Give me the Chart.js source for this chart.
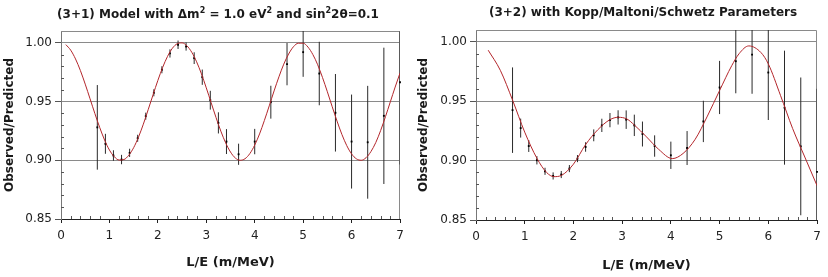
<!DOCTYPE html>
<html>
<head>
<meta charset="utf-8">
<script src="https://cdn.jsdelivr.net/npm/chart.js@4/dist/chart.umd.min.js"></script>
<style>
  body { margin: 0; background: #fff; }
  #wrap { position: relative; width: 828px; height: 277px; font-family: "DejaVu Sans", Verdana, sans-serif; }
  .panel { position: absolute; top: 0; width: 414px; height: 277px; }
  .ttl { position: absolute; width: 414px; text-align: center; font-weight: bold; font-size: 12px; line-height: 14px; color: #1a1a1a; white-space: nowrap; }
  .ttl sup { font-size: 8px; line-height: 0; vertical-align: 5px; }
</style>
</head>
<body>
<div id="wrap">
  <div class="panel" style="left:0">
    <canvas id="c1" width="414" height="277"></canvas>
    <div class="ttl" style="left:11px; top:7px">(3+1) Model with &Delta;m<sup>2</sup> = 1.0 eV<sup>2</sup> and sin<sup>2</sup>2&theta;=0.1</div>
  </div>
  <div class="panel" style="left:414px">
    <canvas id="c2" width="414" height="277"></canvas>
    <div class="ttl" style="left:22px; top:5px">(3+2) with Kopp/Maltoni/Schwetz Parameters</div>
  </div>
</div>
<script>
// ── DATA ─────────────────────────────────────────────

const xTicks = [0, 1, 2, 3, 4, 5, 6, 7];
const yTicks = [0.85, 0.90, 0.95, 1.00];

// (3+1) panel
const leftX   = [0.75, 0.917, 1.083, 1.25, 1.417, 1.583, 1.75, 1.917, 2.083, 2.25, 2.417, 2.583, 2.75, 2.917,
                 3.083, 3.25, 3.417, 3.667, 4.0, 4.333, 4.667, 5.0, 5.333, 5.667, 6.0, 6.333, 6.667, 7.0];
const leftY   = [0.928, 0.914, 0.904, 0.9006, 0.9063, 0.9187, 0.9375, 0.9574, 0.977, 0.9909, 0.9983, 0.9968, 0.9869, 0.9707,
                 0.9511, 0.9318, 0.9159, 0.9051, 0.9159, 0.9494, 0.9818, 0.992, 0.9738, 0.9404, 0.9159, 0.9153, 0.9378, 0.9664];
const leftErr = [0.036, 0.0085, 0.0045, 0.004, 0.0035, 0.003, 0.003, 0.003, 0.003, 0.0035, 0.0036, 0.0035, 0.005, 0.0065,
                 0.008, 0.009, 0.0106, 0.009, 0.0108, 0.014, 0.018, 0.021, 0.027, 0.033, 0.040, 0.048, 0.058, 0.07];
const leftCurveX = [0.1, 0.2, 0.3, 0.4, 0.5, 0.6, 0.7, 0.8, 0.9, 1.0, 1.1, 1.2, 1.3, 1.4, 1.5, 1.6, 1.7, 1.8, 1.9, 2.0,
                    2.1, 2.2, 2.3, 2.4, 2.5, 2.6, 2.7, 2.8, 2.9, 3.0, 3.1, 3.2, 3.3, 3.4, 3.5, 3.6, 3.7, 3.8, 3.9, 4.0,
                    4.1, 4.2, 4.3, 4.4, 4.5, 4.6, 4.7, 4.8, 4.9, 5.0, 5.1, 5.2, 5.3, 5.4, 5.5, 5.6, 5.7, 5.8, 5.9, 6.0,
                    6.1, 6.2, 6.3, 6.4, 6.5, 6.6, 6.7, 6.8, 6.9, 7.0];
const leftCurveY = [0.9984, 0.9937, 0.9862, 0.9764, 0.9648, 0.9523, 0.9397, 0.9278, 0.9172, 0.9087,
                    0.9030, 0.9002, 0.9006, 0.9043, 0.9107, 0.9197, 0.9307, 0.9430, 0.9556, 0.9679,
                    0.9791, 0.9884, 0.9953, 0.9992, 0.9999, 0.9974, 0.9919, 0.9838, 0.9735, 0.9616,
                    0.9490, 0.9365, 0.9248, 0.9148, 0.9070, 0.9019, 0.9000, 0.9013, 0.9057, 0.9129,
                    0.9224, 0.9339, 0.9463, 0.9590, 0.9710, 0.9818, 0.9904, 0.9966, 0.9996, 0.9996,
                    0.9963, 0.9900, 0.9813, 0.9704, 0.9583, 0.9456, 0.9333, 0.9220, 0.9125, 0.9054,
                    0.9012, 0.9000, 0.9022, 0.9074, 0.9151, 0.9253, 0.9371, 0.9497, 0.9623, 0.9742];

// (3+2) panel
const rightX   = [0.75, 0.917, 1.083, 1.25, 1.417, 1.583, 1.75, 1.917, 2.083, 2.25, 2.417, 2.583, 2.75, 2.917,
                  3.083, 3.25, 3.417, 3.667, 4.0, 4.333, 4.667, 5.0, 5.333, 5.667, 6.0, 6.333, 6.667, 7.0];
const rightY   = [0.9425, 0.9274, 0.9123, 0.9003, 0.891, 0.8871, 0.8883, 0.8933, 0.9017, 0.9115, 0.9213, 0.9297, 0.9341, 0.9364,
                  0.9345, 0.9297, 0.9224, 0.9123, 0.9045, 0.9106, 0.933, 0.9616, 0.9837, 0.9893, 0.9742, 0.9446, 0.912, 0.8905];
const rightErr = [0.036, 0.008, 0.005, 0.0035, 0.003, 0.003, 0.003, 0.003, 0.003, 0.004, 0.005, 0.0056, 0.006, 0.006,
                  0.0078, 0.009, 0.0105, 0.009, 0.0115, 0.0143, 0.0174, 0.0224, 0.027, 0.033, 0.040, 0.048, 0.058, 0.07];
const rightCurveX = [0.25, 0.5, 0.75, 1.0, 1.25, 1.45, 1.6, 1.75, 2.0, 2.25, 2.5, 2.75, 2.92, 3.1, 3.25, 3.5, 3.75,
                     4.03, 4.25, 4.5, 4.75, 5.0, 5.25, 5.4, 5.6, 5.85, 6.0, 6.25, 6.5, 6.75, 7.0];
const rightCurveY = [0.993, 0.976, 0.951, 0.924, 0.902, 0.890, 0.8865, 0.8875, 0.897, 0.9135, 0.926, 0.9345, 0.9365,
                     0.935, 0.930, 0.920, 0.9095, 0.9017, 0.906, 0.918, 0.9375, 0.959, 0.980, 0.990, 0.9966,
                     0.991, 0.9815, 0.955, 0.927, 0.903, 0.879];

// ── DIBUJO ───────────────────────────────────────────

const FONT = '"DejaVu Sans", Verdana, sans-serif';
const RED  = '#b3262b';

// bordes sup/der, ticks menores y barras de error
const extras = {
    id: 'extras',
    beforeDatasetsDraw(chart, args, o) {
        const { ctx, chartArea: a, scales: { x, y } } = chart;
        ctx.save();
        ctx.lineWidth = 1;

        ctx.strokeStyle = '#8a8a8a';
        ctx.beginPath();
        ctx.moveTo(a.left, a.top + 0.5);
        ctx.lineTo(a.right - 0.5, a.top + 0.5);
        ctx.lineTo(a.right - 0.5, a.bottom);
        ctx.stroke();

        ctx.strokeStyle = '#555';
        ctx.beginPath();
        for (let k = 86; k <= 100; k++) {
            if (k % 5 === 0) continue;
            const py = Math.round(y.getPixelForValue(k / 100)) + 0.5;
            ctx.moveTo(a.left, py); ctx.lineTo(a.left + 3, py);
        }
        for (let k = 1; k < 35; k++) {
            if (k % 5 === 0) continue;
            const px = Math.round(x.getPixelForValue(k / 5)) + 0.5;
            ctx.moveTo(px, a.bottom); ctx.lineTo(px, a.bottom - 3);
        }
        ctx.stroke();

        ctx.beginPath();
        ctx.rect(a.left, a.top, a.right - a.left, a.bottom - a.top);
        ctx.clip();
        ctx.strokeStyle = '#2a2a2a';
        ctx.beginPath();
        o.err.forEach((e, i) => {
            const px = x.getPixelForValue(o.xs[i]);
            ctx.moveTo(px, y.getPixelForValue(o.ys[i] + e));
            ctx.lineTo(px, y.getPixelForValue(o.ys[i] - e));
        });
        ctx.stroke();
        ctx.restore();
    }
};

function crearGrafico(id, xs, ys, err, cx, cy, pad, alto, titlePadBottom) {
    const puntos = xs.map((v, i) => ({ x: v, y: ys[i] }));
    const curva  = cx.map((v, i) => ({ x: v, y: cy[i] }));
    return new Chart(document.getElementById(id), {
        type: 'scatter',
        data: {
            datasets: [
                {
                    type: 'line',
                    data: curva,
                    borderColor: RED,
                    borderWidth: 1,
                    pointRadius: 0,
                    cubicInterpolationMode: 'monotone',
                    fill: false,
                },
                {
                    data: puntos,
                    pointStyle: 'rect',
                    pointRadius: 1.3,
                    backgroundColor: '#000',
                    borderColor: '#000',
                    borderWidth: 0,
                    clip: false,
                }
            ]
        },
        options: {
            responsive: false,
            animation: false,
            devicePixelRatio: 1,
            layout: { padding: pad },
            plugins: {
                legend: { display: false },
                tooltip: { enabled: false },
                extras: { xs, ys, err }
            },
            scales: {
                x: {
                    type: 'linear',
                    min: 0, max: 7,
                    afterBuildTicks: s => { s.ticks = xTicks.map(v => ({ value: v })); },
                    afterFit: s => { s.height = alto; },
                    ticks: { color: '#222', font: { family: FONT, size: 12 }, padding: 6, maxRotation: 0 },
                    grid: { drawOnChartArea: false, tickLength: 4, color: '#222' },
                    border: { color: '#222' },
                    title: {
                        display: true, text: 'L/E (m/MeV)', color: '#1a1a1a',
                        font: { family: FONT, size: 13, weight: 'bold' },
                        padding: { top: 0, bottom: titlePadBottom }
                    }
                },
                y: {
                    type: 'linear',
                    min: 0.85, max: 1.01,
                    afterBuildTicks: s => { s.ticks = yTicks.map(v => ({ value: v })); },
                    afterFit: s => { s.width = pad.yw; },
                    ticks: { color: '#222', font: { family: FONT, size: 12 }, padding: 3, callback: v => v.toFixed(2) },
                    grid: { color: '#8a8a8a', tickLength: 6, tickColor: '#555' },
                    border: { color: '#777' },
                    title: {
                        display: true, text: 'Observed/Predicted', color: '#1a1a1a',
                        font: { family: FONT, size: 12, weight: 'bold' },
                        padding: { top: 3, bottom: 0 }
                    }
                }
            }
        },
        plugins: [extras]
    });
}

crearGrafico('c1', leftX, leftY, leftErr, leftCurveX, leftCurveY,
    { top: 31, right: 14, left: 0, bottom: 0, yw: 61 }, 58, 7);
crearGrafico('c2', rightX, rightY, rightErr, rightCurveX, rightCurveY,
    { top: 30, right: 11, left: 0, bottom: 0, yw: 62 }, 57, 4);
</script>
</body>
</html>
